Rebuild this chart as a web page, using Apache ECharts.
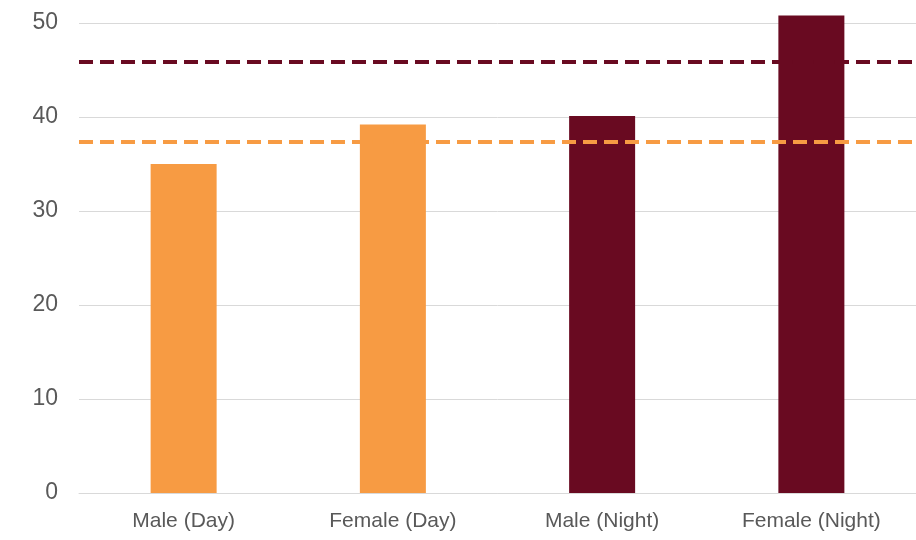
<!DOCTYPE html>
<html>
<head>
<meta charset="utf-8">
<script src="https://cdn.jsdelivr.net/npm/echarts@6/dist/echarts.min.js"></script>
<style>
  html, body { margin: 0; padding: 0; background: #fff; }
  #chart { width: 916px; height: 540px; }
</style>
</head>
<body>
<div id="chart"></div>
<script>
  const categories = ['Male (Day)', 'Female (Day)', 'Male (Night)', 'Female (Night)'];
  const values = [35.0, 39.2, 40.1, 50.8];
  const dayAverage = 37.4;
  const nightAverage = 45.9;
  const yTicks = [0, 10, 20, 30, 40, 50];

  const ORANGE = '#F79B43';
  const MAROON = '#690A21';
  const FONT = '"Liberation Sans Narrow", "Arial Narrow", "Liberation Sans", sans-serif';

  const chart = echarts.init(document.getElementById('chart'));

  chart.setOption({
    backgroundColor: '#ffffff',
    animation: false,
    grid: {
      left: 79,
      right: -6,
      top: 23,
      bottom: 47,
      containLabel: false,
    },
    xAxis: {
      type: 'category',
      data: categories,
      axisTick: {show: false},
      axisLine: {lineStyle: {color: '#d9d9d9', width: 1}},
      axisLabel: {
        color: '#595959',
        fontSize: 21,
        fontFamily: FONT,
        margin: 18,
      },
    },
    yAxis: {
      type: 'value',
      min: yTicks[0],
      max: yTicks[yTicks.length - 1],
      interval: 10,
      axisLine: {show: false},
      axisTick: {show: false},
      axisLabel: {
        color: '#595959',
        fontSize: 23,
        fontFamily: FONT,
        margin: 21,
      },
      splitLine: {lineStyle: {color: '#d9d9d9', width: 1}},
    },
    series: [
      {
        // reference lines, drawn under the bars
        type: 'line',
        z: 1,
        data: [],
        markLine: {
          silent: true,
          symbol: 'none',
          label: {show: false},
          data: [
            {yAxis: nightAverage, lineStyle: {color: MAROON, width: 4, type: [14, 7]}},
            {yAxis: dayAverage, lineStyle: {color: ORANGE, width: 4, type: [14, 7]}},
          ],
        },
      },
      {
        type: 'bar',
        z: 3,
        clip: false,
        barWidth: 66,
        data: values.map((v, i) => ({
          value: v,
          itemStyle: {color: i < 2 ? ORANGE : MAROON},
        })),
      },
    ],
  });
</script>
</body>
</html>
